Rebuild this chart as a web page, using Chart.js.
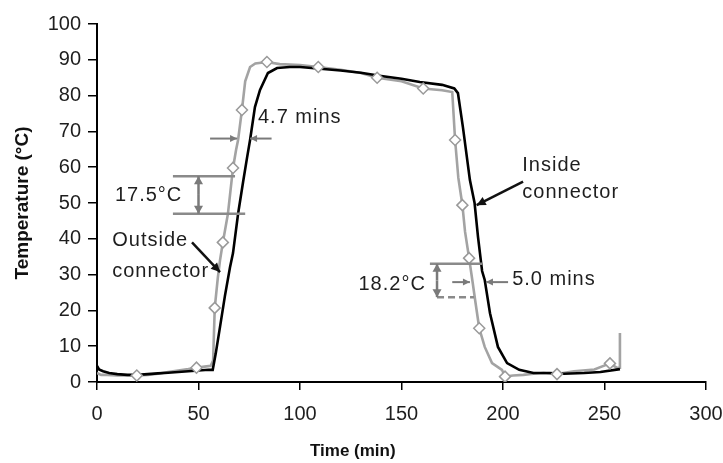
<!DOCTYPE html>
<html>
<head>
<meta charset="utf-8">
<script src="https://cdn.jsdelivr.net/npm/chart.js@4.4.1/dist/chart.umd.min.js"></script>
<style>
  html, body { margin: 0; padding: 0; background: #fff; }
</style>
</head>
<body>
<canvas id="tempChart" width="723" height="463"></canvas>
<script>
// data
const insideTime = [0, 1, 3, 6, 10, 15, 20, 25, 30, 35, 40, 45, 50, 55, 57, 58.5, 60.6, 63, 65.5, 67, 69.5, 72, 73.9, 75.4, 77.8, 80.3, 84.2, 88.7, 95, 100, 110, 120, 130, 140, 150, 159, 170, 176, 177.8, 180.3, 183.7, 186, 187.7, 189.7, 191, 193.6, 197.5, 202, 208, 215, 223, 230, 240, 248, 257.6];
const insideTemp = [4.5, 3.5, 3, 2.5, 2.2, 2, 2, 2.2, 2.4, 2.6, 2.8, 3, 3.2, 3.4, 3.4, 8, 15.4, 24, 32, 36, 47, 56, 62.6, 67.6, 76.8, 81.6, 86.3, 87.7, 88, 88, 87.5, 87, 86.4, 85.5, 84.7, 83.8, 83, 82, 80.7, 71, 56.4, 50, 40.5, 31, 28.5, 19.2, 9.8, 5.3, 3.4, 2.5, 2.5, 2.3, 2.5, 2.8, 3.6];

const outsideTime = [0, 2, 5, 10, 15, 19.6, 25, 30, 35, 40, 45, 49, 53, 56, 57.2, 58, 59.5, 60.6, 62, 64.5, 67, 68.5, 69.5, 71.4, 73, 75.4, 78, 83.7, 90, 100, 109, 120, 130, 138, 150, 160.7, 170, 175, 176.4, 178, 180, 181.3, 183.3, 185, 186.5, 188.3, 191, 194.6, 199.5, 201, 205, 210, 215, 220, 226.6, 235, 245, 252.7, 256, 257.4, 257.6];
const outsideTemp = [2.5, 2, 2, 1.8, 1.8, 1.8, 2, 2.3, 2.8, 3.2, 3.6, 4, 4.3, 4.5, 6, 20.7, 29, 34, 39, 47, 59.8, 64.8, 67.6, 76, 84, 88, 89, 89.4, 88.8, 88.5, 88, 87.2, 86.3, 85, 84, 82, 81.5, 81, 67.6, 57, 49.4, 42, 34.6, 28, 22, 15, 9.8, 5.3, 3.4, 1.5, 1.8, 2, 2.3, 2.5, 2.2, 3, 3.5, 5.2, 4, 4, 13.7];

const markerTime = [19.6, 49, 58, 62, 67, 71.4, 83.7, 109, 138, 160.7, 176.4, 180, 183.3, 188.3, 201, 226.6, 252.7];
const markerTemp = [1.8, 4, 20.7, 39, 59.8, 76, 89.4, 88, 85, 82, 67.6, 49.4, 34.6, 15, 1.5, 2.2, 5.2];

const xTicks = [0, 50, 100, 150, 200, 250, 300];
const yTicks = [0, 10, 20, 30, 40, 50, 60, 70, 80, 90, 100];

// annotations, in data units (time, temperature)
const gapArrows = [
  { y: 68, from: 55.7, to: 69 },
  { y: 68, from: 86, to: 75.4 },
  { y: 27.9, from: 175, to: 183.7 },
  { y: 27.9, from: 202.5, to: 191.6 }
];
const levelLines = [
  { y: 57.5, from: 37.4, to: 68, dash: false },
  { y: 47, from: 37.4, to: 73, dash: false },
  { y: 33, from: 164, to: 189.7, dash: false },
  { y: 23.7, from: 167.5, to: 185.7, dash: true }
];
const spanArrows = [
  { x: 50, from: 57.5, to: 47 },
  { x: 167.5, from: 33, to: 23.7 }
];
const pointerArrows = [
  { x1: 46.8, y1: 39, x2: 60.6, y2: 30.7 },
  { x1: 209.9, y1: 56, x2: 187, y2: 49.4 }
];
const labels = [
  { text: '4.7 mins', x: 79.3, y: 74, align: 'left' },
  { text: '17.5°C', x: 42, y: 52, align: 'right' },
  { text: 'Outside', x: 7.5, y: 39.4, align: 'left' },
  { text: 'connector', x: 7.5, y: 31, align: 'left' },
  { text: 'Inside', x: 209.5, y: 60.6, align: 'left' },
  { text: 'connector', x: 209.5, y: 52.8, align: 'left' },
  { text: '18.2°C', x: 162, y: 27.3, align: 'right' },
  { text: '5.0 mins', x: 204.5, y: 28.5, align: 'left' }
];

const fontFamily = '"Liberation Sans", Arial, sans-serif';
const noteGrey = '#7a7a7a';

function toPoints(xs, ys) {
  return xs.map((t, i) => ({ x: t, y: ys[i] }));
}

function arrowHead(ctx, x1, y1, x2, y2, len, half) {
  const a = Math.atan2(y2 - y1, x2 - x1);
  ctx.beginPath();
  ctx.moveTo(x2, y2);
  ctx.lineTo(x2 - len * Math.cos(a) + half * Math.sin(a), y2 - len * Math.sin(a) - half * Math.cos(a));
  ctx.lineTo(x2 - len * Math.cos(a) - half * Math.sin(a), y2 - len * Math.sin(a) + half * Math.cos(a));
  ctx.closePath();
  ctx.fill();
}

function arrow(ctx, x1, y1, x2, y2, color, width, len, half) {
  ctx.strokeStyle = color;
  ctx.fillStyle = color;
  ctx.lineWidth = width;
  ctx.beginPath();
  ctx.moveTo(x1, y1);
  ctx.lineTo(x2, y2);
  ctx.stroke();
  arrowHead(ctx, x1, y1, x2, y2, len, half);
}

const notesPlugin = {
  id: 'notes',
  afterDatasetsDraw(chart) {
    const ctx = chart.ctx;
    const xs = chart.scales.x, ys = chart.scales.y;
    const px = v => xs.getPixelForValue(v);
    const py = v => ys.getPixelForValue(v);
    ctx.save();

    levelLines.forEach(l => {
      ctx.strokeStyle = '#8a8a8a';
      ctx.lineWidth = 2.5;
      ctx.setLineDash(l.dash ? [7, 4] : []);
      ctx.beginPath();
      ctx.moveTo(px(l.from), py(l.y));
      ctx.lineTo(px(l.to), py(l.y));
      ctx.stroke();
    });
    ctx.setLineDash([]);

    gapArrows.forEach(a => arrow(ctx, px(a.from), py(a.y), px(a.to), py(a.y), noteGrey, 2, 7, 3.5));

    spanArrows.forEach(a => {
      const mid = (py(a.from) + py(a.to)) / 2;
      arrow(ctx, px(a.x), mid, px(a.x), py(a.from), noteGrey, 2.5, 8, 4.5);
      arrow(ctx, px(a.x), mid, px(a.x), py(a.to), noteGrey, 2.5, 8, 4.5);
    });

    pointerArrows.forEach(a => arrow(ctx, px(a.x1), py(a.y1), px(a.x2), py(a.y2), '#111', 2.5, 9, 4.5));

    ctx.fillStyle = '#1e1e1e';
    ctx.font = '20px ' + fontFamily;
    ctx.letterSpacing = '1px';
    ctx.textBaseline = 'middle';
    labels.forEach(l => {
      ctx.textAlign = l.align;
      ctx.fillText(l.text, px(l.x), py(l.y));
    });

    // x axis title sits left of centre in the original
    ctx.letterSpacing = '0px';
    ctx.font = 'bold 17px ' + fontFamily;
    ctx.textAlign = 'center';
    ctx.fillStyle = '#111';
    ctx.fillText('Time (min)', px(126), 451);
    ctx.restore();
  }
};

const ctx = document.getElementById('tempChart').getContext('2d');
const tempChart = new Chart(ctx, {
  type: 'scatter',
  data: {
    datasets: [
      {
        label: 'Outside markers',
        data: toPoints(markerTime, markerTemp),
        showLine: false,
        pointStyle: 'rectRot',
        pointRadius: 5.5,
        pointBackgroundColor: '#ffffff',
        pointBorderColor: '#9a9a9a',
        pointBorderWidth: 1.5
      },
      {
        label: 'Inside connector',
        data: toPoints(insideTime, insideTemp),
        showLine: true,
        borderColor: '#000000',
        borderWidth: 2.6,
        pointRadius: 0,
        tension: 0
      },
      {
        label: 'Outside connector',
        data: toPoints(outsideTime, outsideTemp),
        showLine: true,
        borderColor: '#a3a3a3',
        borderWidth: 2.6,
        pointRadius: 0,
        tension: 0
      }
    ]
  },
  options: {
    responsive: false,
    animation: false,
    events: [],
    layout: { padding: { top: 24, right: 17, left: 0, bottom: 0 } },
    plugins: {
      legend: { display: false },
      tooltip: { enabled: false }
    },
    scales: {
      x: {
        type: 'linear',
        min: 0,
        max: 300,
        afterBuildTicks: scale => { scale.ticks = xTicks.map(v => ({ value: v })); },
        afterFit: scale => {
          scale.height = 81;
          scale.paddingRight = 0;
          scale.paddingLeft = 0;
        },
        ticks: {
          autoSkip: false,
          maxRotation: 0,
          padding: 12,
          color: '#1e1e1e',
          font: { family: fontFamily, size: 20 }
        },
        grid: { display: true, drawOnChartArea: false, tickLength: 8, color: '#000', lineWidth: 1.5 },
        border: { display: true, color: '#000', width: 2 },
        title: { display: false }
      },
      y: {
        type: 'linear',
        min: 0,
        max: 100,
        afterBuildTicks: scale => { scale.ticks = yTicks.map(v => ({ value: v })); },
        afterFit: scale => { scale.width = 97; },
        ticks: {
          autoSkip: false,
          padding: 7,
          color: '#1e1e1e',
          font: { family: fontFamily, size: 20 }
        },
        grid: { display: true, drawOnChartArea: false, tickLength: 9, color: '#000', lineWidth: 1.5 },
        border: { display: true, color: '#000', width: 2 },
        title: {
          display: true,
          text: 'Temperature (°C)',
          color: '#111',
          font: { family: fontFamily, size: 19, weight: 'bold' },
          padding: { top: 11, bottom: 0 }
        }
      }
    }
  },
  plugins: [notesPlugin]
});
</script>
</body>
</html>
